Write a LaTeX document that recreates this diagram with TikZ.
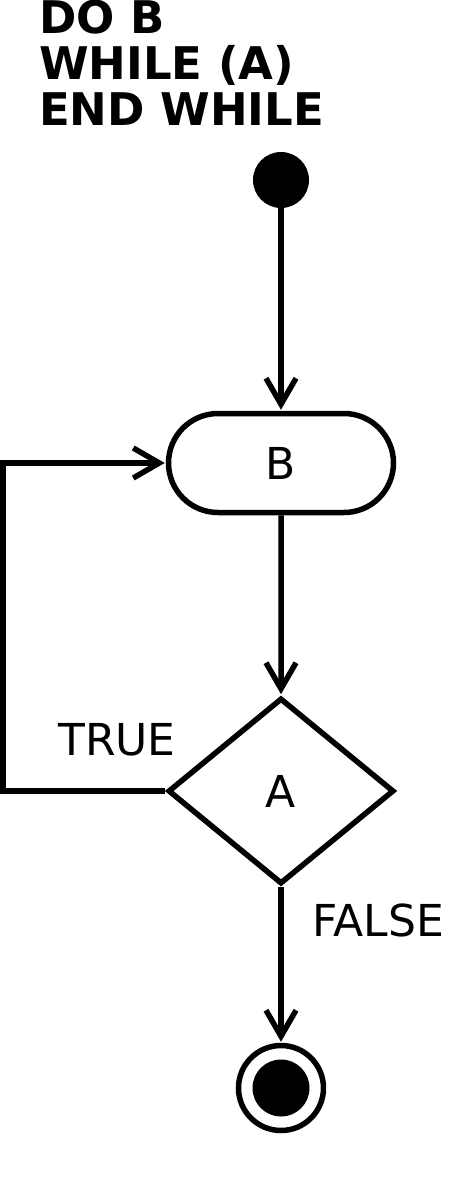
\documentclass[tikz,border=0pt]{standalone}
\usepackage{fontspec}
\setmainfont{DejaVu Sans}
\usetikzlibrary{arrows.meta,shapes.misc,shapes.geometric}
\begin{document}
\begin{tikzpicture}[x=1pt,y=-1pt,
  lw/.style={line width=5.5pt},
  flow/.style={lw,-{Straight Barb[length=26pt,width=30pt,line width=5.5pt]},shorten >=1pt},
  big/.style={font=\fontsize{44}{46}\selectfont},
  title/.style={font=\fontsize{45}{46}\selectfont\bfseries,anchor=base west,inner sep=0pt},
  lab/.style={big,inner sep=0pt}]
\useasboundingbox (0,0) rectangle (474,1192);
\node[title] (t1) at (39,33) {DO B};
\node[title] (t2) at (39,79) {WHILE (A)};
\node[title] (t3) at (39,125) {END WHILE};
\node[circle,fill=black,minimum size=56pt,inner sep=0pt] (start) at (281,180) {};
\node[rounded rectangle,draw,lw,minimum width=225pt,minimum height=99pt,inner sep=0pt,big] (B) at (281,463) {B};
\node[diamond,draw,lw,minimum width=226pt,minimum height=186pt,inner sep=0pt,big] (A) at (281,791) {A};
\node[circle,draw,lw,minimum size=85pt,inner sep=0pt] (end) at (281,1088) {};
\node[circle,fill=black,minimum size=57pt,inner sep=0pt] (endin) at (281,1088) {};
\node[lab] (true) at (117,740) {TRUE};
\node[lab] (false) at (378,920) {FALSE};
\coordinate (loopL) at (3,791);
\coordinate (loopT) at (3,463);
\draw[flow] (start) -- (B);
\draw[flow] (B) -- (A);
\draw[flow] (A.west) -- (loopL) -- (loopT) -- (B.west);
\draw[flow] (A) -- (end);
\end{tikzpicture}
\end{document}
